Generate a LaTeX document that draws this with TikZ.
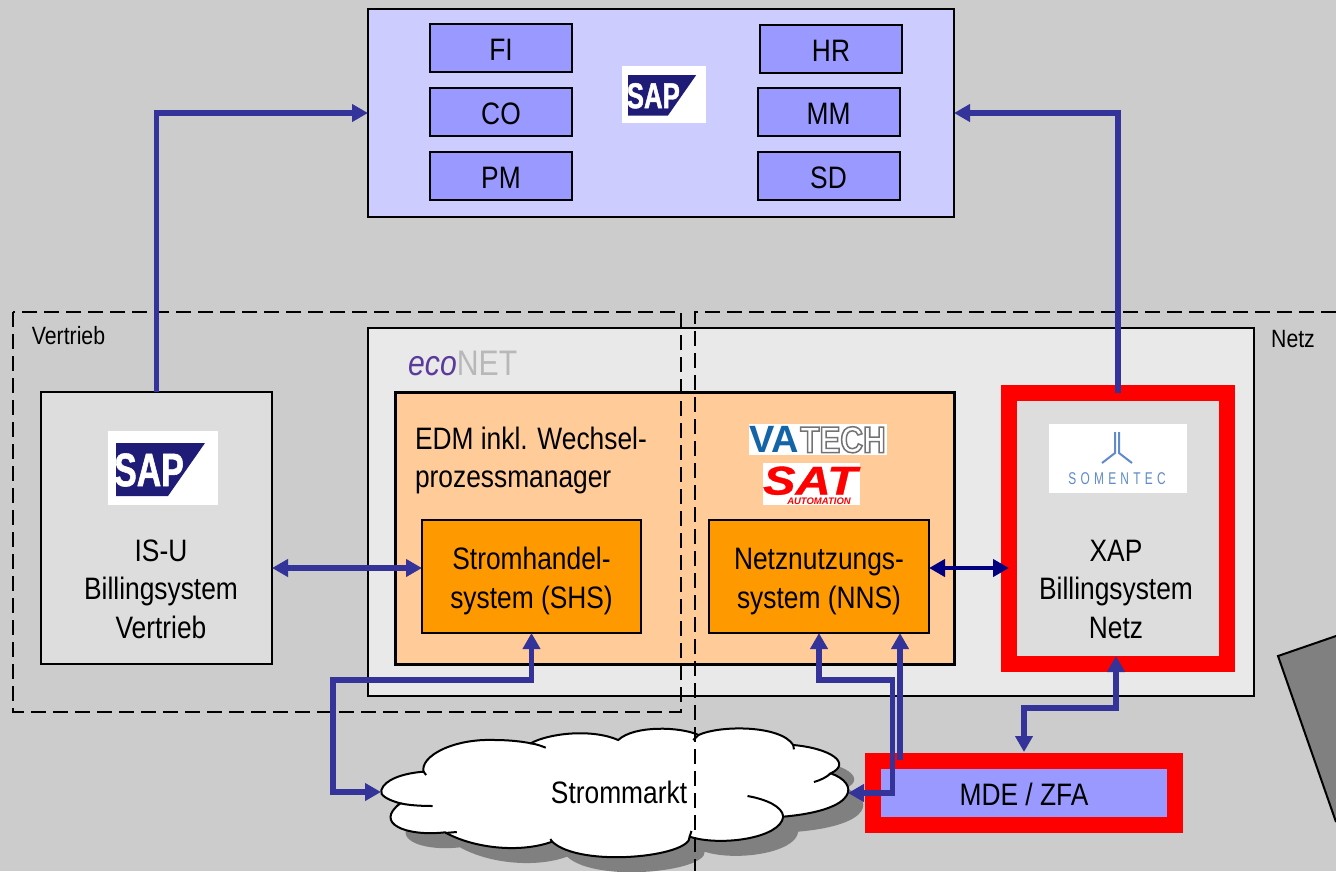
\documentclass[tikz,border=0pt]{standalone}
\usepackage{fontspec}
\setmainfont{Liberation Sans}
\usetikzlibrary{arrows.meta,calc}
\newfontfamily\narrowf[FakeStretch=0.85]{Liberation Sans}
\newfontfamily\sapf[FakeStretch=0.72,FakeBold=1.2]{Liberation Sans}
\newfontfamily\satf[FakeStretch=1.22,FakeBold=0.8]{Liberation Sans}
\newfontfamily\somf[FakeStretch=0.7,LetterSpace=25]{Liberation Sans}
\definecolor{bgc}{HTML}{CCCCCC}
\definecolor{sapc}{HTML}{CCCCFF}
\definecolor{modc}{HTML}{9999FF}
\definecolor{ecoc}{HTML}{E9E9E9}
\definecolor{edmc}{HTML}{FFCC99}
\definecolor{orc}{HTML}{FF9900}
\definecolor{isuc}{HTML}{DDDDDD}
\definecolor{flowc}{HTML}{333399}
\definecolor{navyc}{HTML}{000080}
\definecolor{shadc}{HTML}{808080}
\definecolor{sapnavy}{HTML}{1F1C78}
\definecolor{ecop}{HTML}{5C3A9C}
\definecolor{ecog}{HTML}{B8B8B8}
\definecolor{vab}{HTML}{1464A8}
\definecolor{somc}{HTML}{5F8BCB}
\newcommand{\lab}{\narrowf\fontsize{31}{38.5}\selectfont}
\newcommand{\smalllab}{\narrowf\fontsize{25}{28}\selectfont}
\newcommand{\dropt}{\rule{0pt}{25pt}}
\newcommand{\topgap}{\rule{0pt}{31pt}}
\newcommand{\cloudoutline}{(172,390) .. controls (180,360) and (230,340) .. (290,335)
 .. controls (280,290) and (370,235) .. (490,240)
 .. controls (530,240) and (570,245) .. (590,250)
 .. controls (640,220) and (760,205) .. (835,240)
 .. controls (880,195) and (1010,200) .. (1060,225)
 .. controls (1120,195) and (1290,195) .. (1325,255)
 .. controls (1430,265) and (1490,310) .. (1430,340)
 .. controls (1510,370) and (1510,450) .. (1297,470)
 .. controls (1290,535) and (1120,560) .. (1035,530)
 .. controls (1040,590) and (730,625) .. (650,545)
 .. controls (560,580) and (430,565) .. (350,517)
 .. controls (240,530) and (150,490) .. (225,430)
 .. controls (190,420) and (165,405) .. (172,390) -- cycle}
\tikzset{
 boxn/.style={draw=black,line width=2pt,outer sep=0pt,inner sep=0pt,align=center,font=\lab,text=black},
 modn/.style={boxn,fill=modc,minimum width=142pt,minimum height=48pt},
 plain/.style={inner sep=0pt,outer sep=0pt,align=center,font=\lab,text=black},
 flow/.style={draw=flowc,line width=5.2pt,line join=miter,{Triangle[length=16pt,width=17pt]}-{Triangle[length=16pt,width=17pt]}},
 flowto/.style={draw=flowc,line width=5.2pt,-{Triangle[length=16pt,width=17pt]}},
 dashline/.style={draw=black,line width=2pt,dash pattern=on 15pt off 7pt},
 pics/saplogo/.style={code={
   \fill[white] (0,0) rectangle (110,74);
   \fill[sapnavy] (8,12) -- (97,12) -- (60,65) -- (8,65) -- cycle;
   \node[inner sep=0pt,text=white,font=\sapf\bfseries\fontsize{47}{47}\selectfont,transform shape] (-word) at (41,39) {SAP};
 }}
}
\begin{document}
\begin{tikzpicture}[x=1pt,y=-1pt]
\useasboundingbox (0,0) rectangle (1336,871);
\fill[bgc] (0,0) rectangle (1336,871);
% tilted shape at the right edge
\draw[fill=shadc,line width=2pt] (1336,636) -- (1278,656) -- (1336,822);
% SAP box
\node[boxn,fill=sapc,minimum width=586pt,minimum height=208pt] (sapbox) at (661,113) {};
\node[modn] (fi) at (501,48) {\dropt FI};
\node[modn] (co) at (501,112) {\dropt CO};
\node[modn] (pm) at (501,176) {\dropt PM};
\node[modn] (hr) at (831,49) {\dropt HR};
\node[modn] (mm) at (828.5,112) {\dropt MM};
\node[modn] (sd) at (828.5,176) {\dropt SD};
\pic[scale=0.764] (saptop) at (622,66) {saplogo};
% econet
\node[boxn,fill=ecoc,minimum width=886pt,minimum height=368pt] (eco) at (811,512) {};
\node[inner sep=0pt,anchor=base west,font=\narrowf\fontsize{35.5}{36}\selectfont] (econame) at (408,375) {\textcolor{ecop}{\itshape eco}\textcolor{ecog}{NET}};
\node[boxn,line width=3pt,fill=edmc,minimum width=559pt,minimum height=272pt] (edm) at (674.5,528) {};
\node[plain,anchor=west,align=left] (edmt) at (415,460.5) {EDM inkl. Wechsel-\\prozessmanager};
\node[boxn,fill=orc,minimum width=219pt,minimum height=113pt] (shs) at (531.5,576.5) {\topgap Stromhandel-\\system (SHS)};
\node[boxn,fill=orc,minimum width=220pt,minimum height=113pt] (nns) at (819,576.5) {\topgap Netznutzungs-\\system (NNS)};
% IS-U
\node[boxn,fill=isuc,minimum width=231pt,minimum height=272pt] (isu) at (156.5,528) {};
\pic at (108,431) {saplogo};
\node[plain] (isut) at (161,589) {IS-U\\Billingsystem\\Vertrieb};
% XAP
\node[boxn,draw=red,line width=16pt,fill=isuc,minimum width=218pt,minimum height=271pt] (xap) at (1118,528.5) {};
\fill[white] (1049,424) rectangle (1187,493);
\draw[somc,line width=2pt] (1115,432) -- (1115,453) -- (1102,463);
\draw[somc,line width=2pt] (1119,432) -- (1119,453) -- (1132,463);
\node[inner sep=0pt,text=somc,font=\somf\fontsize{17}{17}\selectfont] (somname) at (1117,478.5) {SOMENTEC};
\node[plain] (xapt) at (1116,589) {XAP\\Billingsystem\\Netz};
% VA Tech / SAT logos
\fill[white] (749,424) rectangle (887,455);
\node[inner sep=0pt,anchor=base west,text=vab,font=\bfseries\fontsize{38}{38}\selectfont] (vaname) at (749,452.5) {VA};
\node[inner sep=0pt,anchor=base west,font=\narrowf\bfseries\fontsize{37}{37}\selectfont,text=black!55] (techname) at (800,452.5) {\special{pdf:code q 1 Tr 1.5 w 0.45 G}TECH\special{pdf:code Q}};
\fill[white] (763,463) rectangle (860,505);
\node[inner sep=0pt,anchor=base,text=red,font=\satf\bfseries\itshape\fontsize{40}{40}\selectfont] (satname) at (810,494.5) {SAT};
\node[inner sep=0pt,anchor=base,text=red,font=\bfseries\itshape\fontsize{9.5}{10}\selectfont] (autoname) at (819,504.5) {AUTOMATION};
% cloud
\begin{scope}[shift={(320,660)},x=0.35714pt,y=-0.33333pt]
\fill[shadc] [shift={(42,45)}] \cloudoutline;
\draw[fill=white,line width=2pt] \cloudoutline;
\draw[line width=2pt] (590,250) .. controls (605,252) and (620,258) .. (632,263);
\draw[line width=2pt] (290,335) -- (297,345);
\draw[line width=2pt] (225,430) .. controls (250,436) and (285,438) .. (315,438);
\draw[line width=2pt] (350,519) -- (383,516);
\draw[line width=2pt] (650,545) -- (645,537);
\draw[line width=2pt] (1297,470) .. controls (1295,440) and (1250,418) .. (1197,408);
\draw[line width=2pt] (1430,340) .. controls (1418,352) and (1402,360) .. (1383,366);
\draw[line width=2pt] (1325,255) -- (1327,268);
\draw[line width=2pt] (1060,225) -- (1045,240);
\draw[line width=2pt] (1035,530) -- (1040,513);
\end{scope}
\node[plain] (market) at (619,792) {Strommarkt};
% MDE
\node[boxn,draw=red,line width=16pt,fill=modc,minimum width=302pt,minimum height=64pt] (mde) at (1024,793) {\dropt MDE / ZFA};
% dashed regions
\node[plain,font=\smalllab] (vertrieb) at (68.5,336) {Vertrieb};
\node[plain,font=\smalllab] (netz) at (1293,339) {Netz};
\draw[dashline] (13,312) rectangle (681,712);
\draw[dashline] (1336,312) -- (695,312) -- (695,871);
% connector helpers
\coordinate (cloudL) at (381,792);
\coordinate (cloudR) at (848,793);
\coordinate (bendA) at (333,680);
\coordinate (bendB) at (892.5,680);
\coordinate (bendC) at (1024,708);
\coordinate (linkY) at (0,568);
\coordinate (nnsEnd) at (900,760);
\coordinate (xapIn) at ($(xap.south)+(-2,-8)$);
\coordinate (mdeIn) at ($(mde.north)+(0,-9)$);
% connectors
\draw[flowto] (isu.north) |- (sapbox.west);
\draw[flowto] (xap.north) |- (sapbox.east);
\draw[flow] (isu.east |- linkY) -- (shs.west |- linkY);
\draw[flow] (shs.south) |- (bendA) |- (cloudL);
\draw[flow] (nns.south) |- (bendB) |- (cloudR);
\draw[flowto] (nnsEnd) -- (nnsEnd |- nns.south);
\draw[flow] (xapIn) |- (bendC) -- (mdeIn);
\draw[flow,draw=navyc,fill=navyc,line width=4.5pt] (nns.east |- linkY) -- (xap.west |- linkY);
\end{tikzpicture}
\end{document}
